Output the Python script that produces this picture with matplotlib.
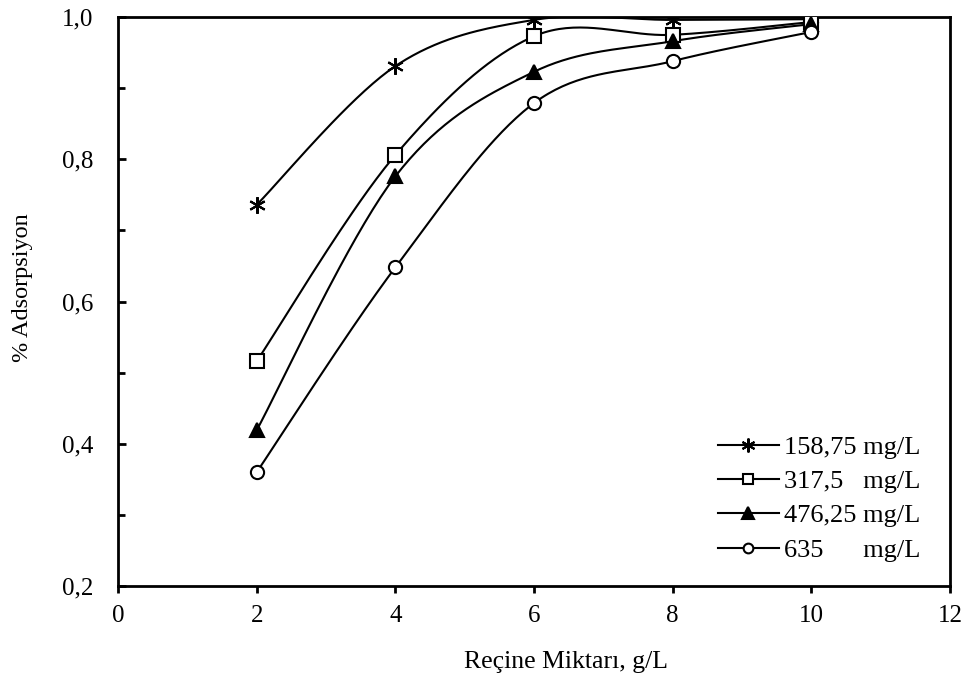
import numpy as np
import matplotlib
matplotlib.use("Agg")
import matplotlib.pyplot as plt
from matplotlib.lines import Line2D
from matplotlib.ticker import MultipleLocator, FuncFormatter

plt.rcParams['font.family'] = ['Liberation Serif', 'DejaVu Serif']

# resin amount, g/L
resin = [2, 4, 6, 8, 10]

# adsorption fraction per initial concentration
ads_158 = [0.736, 0.931, 0.996, 0.996, 0.997]
ads_317 = [0.516, 0.806, 0.973, 0.975, 0.993]
ads_476 = [0.419, 0.776, 0.923, 0.966, 0.990]
ads_635 = [0.360, 0.648, 0.879, 0.938, 0.979]

labels = ["158,75 mg/L", "317,5   mg/L", "476,25 mg/L", "635      mg/L"]


# smoothed line like a spreadsheet chart (catmull-rom via bezier segments)
def smooth(xs, ys, n=40):
    p = np.column_stack([xs, ys]).astype(float)
    pts = np.vstack([p[0], p, p[-1]])
    out = []
    for i in range(1, len(pts) - 2):
        p0, p1, p2, p3 = pts[i - 1], pts[i], pts[i + 1], pts[i + 2]
        c1 = p1 + (p2 - p0) / 6
        c2 = p2 - (p3 - p1) / 6
        t = np.linspace(0, 1, n)[:, None]
        seg = ((1 - t) ** 3) * p1 + 3 * ((1 - t) ** 2) * t * c1 + 3 * (1 - t) * t ** 2 * c2 + t ** 3 * p2
        out.append(seg if i == 1 else seg[1:])
    c = np.vstack(out)
    return c[:, 0], c[:, 1]


fig = plt.figure(figsize=(9.66, 6.82), dpi=100)
ax = fig.add_axes([0.1222, 0.1408, 0.8612, 0.8342])

series = [ads_158, ads_317, ads_476, ads_635]
markers = [(6, 2, 0), 's', '^', 'o']
msizes = [12, 10, 10, 9.5]
leg_sizes = [10, 7.5, 9, 7]
fills = ['k', 'white', 'k', 'white']

handles = []
for ys, m, ms, lms, fc, lab in zip(series, markers, msizes, leg_sizes, fills, labels):
    sx, sy = smooth(resin, ys)
    ax.plot(sx, sy, color='k', lw=1.5, zorder=2)
    ax.plot(resin, ys, linestyle='none', marker=m, markersize=ms,
            markerfacecolor=fc, markeredgecolor='k', markeredgewidth=1.5, zorder=3)
    handles.append(Line2D([], [], color='k', lw=1.5, marker=m, markersize=lms,
                          markerfacecolor=fc, markeredgecolor='k', markeredgewidth=1.5, label=lab))

ax.set_xlim(0, 12)
ax.set_ylim(0.2, 1.0)
ax.xaxis.set_major_locator(MultipleLocator(2))
ax.yaxis.set_major_locator(MultipleLocator(0.2))
ax.yaxis.set_minor_locator(MultipleLocator(0.1))
ax.yaxis.set_major_formatter(FuncFormatter(lambda v, p: f"{v:.1f}".replace('.', ',')))

for s in ax.spines.values():
    s.set_linewidth(2)

ax.tick_params(axis='x', direction='out', length=5, width=2, labelsize=18, pad=9)
ax.tick_params(axis='y', which='major', direction='in', length=6, width=2, labelsize=18, pad=18)
ax.tick_params(axis='y', which='minor', direction='in', length=5, width=2)

ax.set_xlabel("Reçine Miktarı, g/L", fontsize=18.5)
ax.set_ylabel("% Adsorpsiyon", fontsize=17.5)
ax.xaxis.set_label_coords(0.538, -0.115)
ax.yaxis.set_label_coords(-0.102, 0.525)

ax.legend(handles=handles, loc='lower right', frameon=False, fontsize=19,
          handlelength=2.3, handletextpad=0.2, labelspacing=0.41,
          borderaxespad=0.0, bbox_to_anchor=(0.977, 0.024))

fig.savefig("out.png", dpi=100)
